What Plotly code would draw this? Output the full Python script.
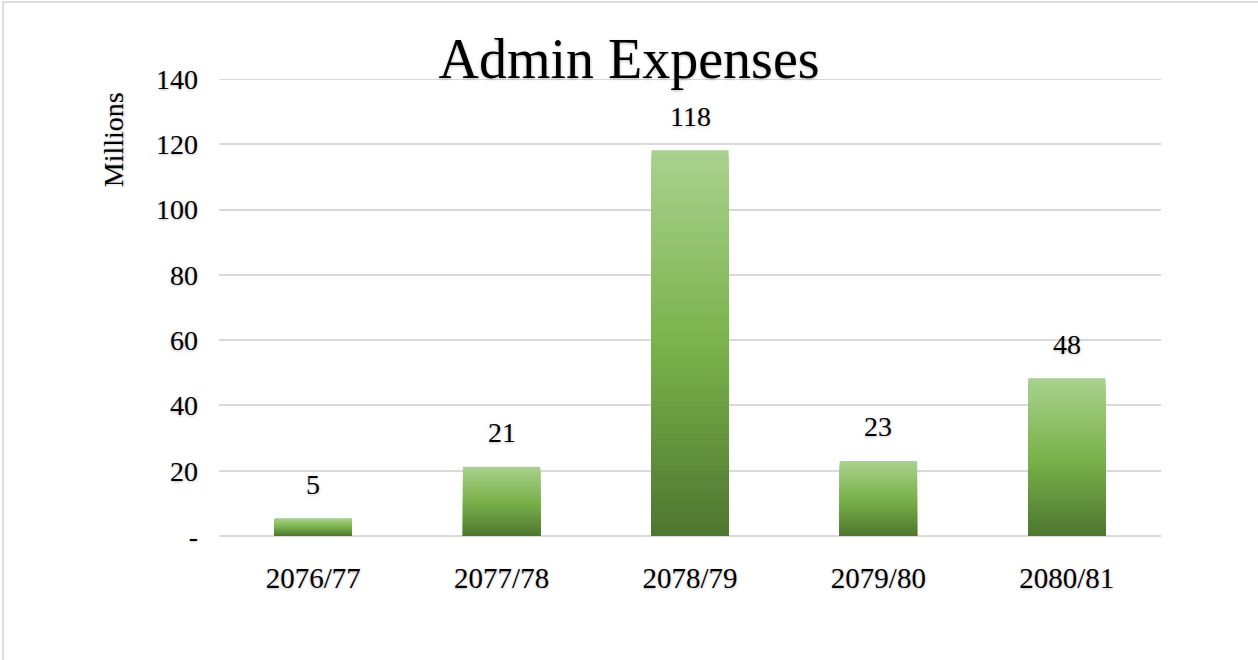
import plotly.graph_objects as go

# Datos
anios = ['2076/77', '2077/78', '2078/79', '2079/80', '2080/81']
gastos_admin = [5.4, 21.2, 118.2, 23.0, 48.3]  # millones
ticks_y = [0, 20, 40, 60, 80, 100, 120, 140]
ticks_y_txt = ['-', '20', '40', '60', '80', '100', '120', '140']

FUENTE = 'Liberation Serif'
SOMBRA = '0px 1px 3px rgba(0,0,0,0.28)'
GRIS = '#d9d9d9'

# Degradado vertical tipo Excel: claro arriba, oscuro abajo
C_TOP = (169, 209, 142)
C_MID = (121, 178, 74)
C_BOT = (78, 117, 48)


def _mezcla(a, b, t):
    return tuple(round(a[i] + (b[i] - a[i]) * t) for i in range(3))


def _color(t):
    # t = 0 arriba, 1 abajo
    if t < 0.5:
        c = _mezcla(C_TOP, C_MID, t / 0.5)
    else:
        c = _mezcla(C_MID, C_BOT, (t - 0.5) / 0.5)
    return f'rgb({c[0]},{c[1]},{c[2]})'


fig = go.Figure()

# Cada capa va de 0 hasta una fracción de la barra; las siguientes tapan la parte baja
N = 60
for k in range(N):
    frac = 1 - k / N
    fig.add_trace(go.Bar(
        x=anios,
        y=[v * frac for v in gastos_admin],
        width=0.41,
        marker=dict(color=_color(k / N), line=dict(width=0)),
        hoverinfo='skip' if k else None,
        hovertemplate='%{x}: %{customdata:.1f}M<extra></extra>' if k == 0 else None,
        customdata=gastos_admin,
        showlegend=False,
    ))

# Etiquetas de valor sobre las barras
for a, v in zip(anios, gastos_admin):
    fig.add_annotation(
        x=a, y=v, text=f'{v:.0f}', showarrow=False,
        yanchor='middle', yshift=34,
        font=dict(family=FUENTE, size=28, color='black', shadow=SOMBRA),
    )

# Título del eje Y (arriba a la izquierda, como en Excel)
fig.add_annotation(
    xref='paper', yref='paper', x=-0.1125, y=0.866,
    text='Millions', textangle=-90, showarrow=False,
    xanchor='center', yanchor='middle',
    font=dict(family=FUENTE, size=28, color='black', shadow=SOMBRA),
)

# Línea de cuadrícula superior (en el borde del rango no la dibuja plotly)
fig.add_shape(
    type='line', xref='paper', yref='y', x0=0, x1=1, y0=ticks_y[-1], y1=ticks_y[-1],
    line=dict(color=GRIS, width=2), layer='below',
)

# Marco gris fino del gráfico (borde izquierdo y superior)
fig.add_shape(
    type='path', xref='paper', yref='paper',
    path='M -0.2293 -0.30 L -0.2293 1.1685 L 1.12 1.1685',
    line=dict(color='#dedede', width=2),
)

fig.update_layout(
    width=1258,
    height=660,
    barmode='overlay',
    title=dict(
        text='Admin Expenses',
        x=0.5, xanchor='center',
        yref='container', y=1 - 58 / 660, yanchor='middle',
        font=dict(family=FUENTE, size=56, color='black', shadow=SOMBRA),
    ),
    xaxis=dict(
        tickfont=dict(family=FUENTE, size=29, color='black', shadow=SOMBRA),
        ticklabelstandoff=22,
        showgrid=False,
        showline=False,
        ticks='',
    ),
    yaxis=dict(
        range=[0, 140],
        tickvals=ticks_y,
        ticktext=ticks_y_txt,
        tickfont=dict(family=FUENTE, size=28, color='black', shadow=SOMBRA),
        ticklabelstandoff=20,
        showgrid=True,
        gridcolor=GRIS,
        gridwidth=2,
        zeroline=True,
        zerolinecolor=GRIS,
        zerolinewidth=2,
        showline=False,
        ticks='',
    ),
    plot_bgcolor='white',
    paper_bgcolor='white',
    margin=dict(l=219, r=97, t=79, b=124),
)

# Quitar el margen del body para que el gráfico empiece en (0, 0)
fig.write_html(
    'out.html',
    config={'displayModeBar': False},
    post_script="document.body.style.margin='0';",
)
